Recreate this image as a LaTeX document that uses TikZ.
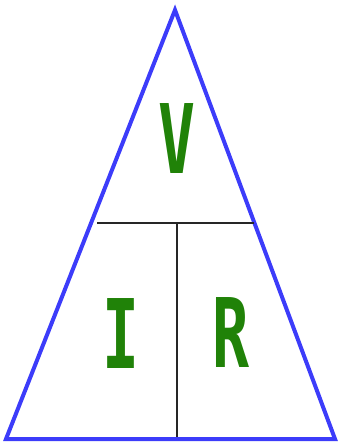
\documentclass[tikz,border=0pt]{standalone}
\usepackage{fontspec}
\newfontfamily\lettermono{DejaVu Sans Mono}
\usepackage{tikz}
\definecolor{triblue}{RGB}{60,60,250}
\definecolor{lettergreen}{RGB}{32,130,8}

\begin{document}
\begin{tikzpicture}[x=1pt,y=-1pt,
    side/.style={draw=triblue, line width=4pt, line join=miter},
    divider/.style={draw=black!85, line width=1.8pt},
    letter/.style={text=lettergreen, inner sep=0pt, xscale=0.64,
        font=\lettermono\bfseries\fontsize{96}{96}\selectfont}]
    \useasboundingbox (0,0) rectangle (339,444);
    % corners of the triangle
    \coordinate (apex) at (175,10);
    \coordinate (bl) at (6,439);
    \coordinate (br) at (335,439);
    \draw[side] (apex) -- (bl) -- (br) -- cycle;

    % split lines
    \coordinate (hl) at (97,223);
    \coordinate (hr) at (254,223);
    \coordinate (vt) at (177,223);
    \coordinate (vb) at (177,437);
    \draw[divider] (hl) -- (hr);
    \draw[divider] (vt) -- (vb);

    % letters
    \node[letter] (V) at (177,139) {V};
    \node[letter] (I) at (121,334) {I};
    \node[letter] (R) at (231,333) {R};
\end{tikzpicture}
\end{document}
